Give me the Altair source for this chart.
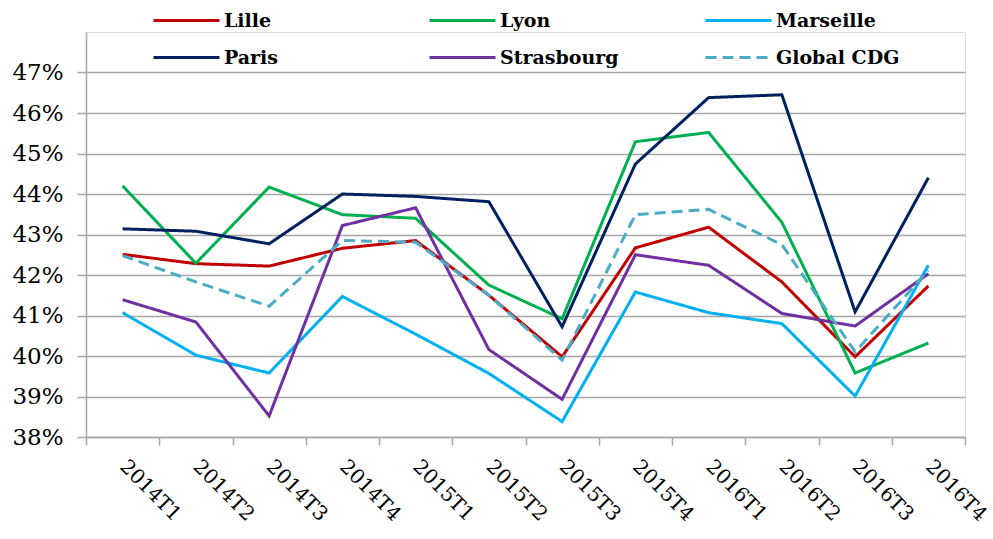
import altair as alt
import pandas as pd

quarters = ["2014T1", "2014T2", "2014T3", "2014T4", "2015T1", "2015T2",
            "2015T3", "2015T4", "2016T1", "2016T2", "2016T3", "2016T4"]

series_names = ["Lille", "Lyon", "Marseille", "Paris", "Strasbourg", "Global CDG"]
series_colors = ["#C00000", "#00B050", "#00B0F0", "#002060", "#7030A0", "#4BACC6"]
series_dashes = [[1, 0], [1, 0], [1, 0], [1, 0], [1, 0], [11, 6]]
series_widths = [3, 3, 3, 3, 3, 4]

lille = [42.51, 42.28, 42.22, 42.66, 42.85, 41.50, 39.98, 42.67, 43.18, 41.83, 39.98, 41.73]
lyon = [44.20, 42.29, 44.17, 43.49, 43.40, 41.75, 40.92, 45.29, 45.52, 43.30, 39.58, 40.32]
marseille = [41.07, 40.02, 39.58, 41.47, 40.54, 39.57, 38.38, 41.58, 41.07, 40.80, 39.01, 42.24]
paris = [43.14, 43.08, 42.77, 44.00, 43.94, 43.81, 40.72, 44.74, 46.38, 46.45, 41.09, 44.40]
strasbourg = [41.39, 40.84, 38.52, 43.22, 43.66, 40.16, 38.93, 42.50, 42.24, 41.05, 40.74, 42.03]
global_cdg = [42.48, 41.83, 41.23, 42.85, 42.81, 41.50, 39.90, 43.49, 43.62, 42.75, 40.10, 42.11]

y_ticks = [38, 39, 40, 41, 42, 43, 44, 45, 46, 47]

values = [lille, lyon, marseille, paris, strasbourg, global_cdg]
rows = []
for name, vals in zip(series_names, values):
    for q, v in zip(quarters, vals):
        rows.append({"trimestre": q, "serie": name, "taux": v})
df = pd.DataFrame(rows)

FONT = "DejaVu Serif"


def make_legend():
    return alt.Legend(title=None, orient="none", legendX=66, legendY=-24,
                      direction="horizontal", columns=3, gridAlign="all",
                      columnPadding=80, rowPadding=12, clipHeight=25,
                      symbolType="stroke", symbolSize=4356,
                      symbolStrokeWidth=4, labelOffset=3,
                      labelFont=FONT, labelFontSize=19,
                      labelFontWeight="bold", labelColor="#000000",
                      labelLimit=300)


chart = alt.Chart(df).mark_line().encode(
    x=alt.X("trimestre:N", sort=quarters, title=None,
            scale=alt.Scale(type="band", paddingInner=0, paddingOuter=0),
            axis=alt.Axis(labelAngle=45, labelAlign="left", labelBaseline="middle",
                          tickBand="extent", tickSize=8, labelPadding=18,
                          grid=False, domainColor="#A6A6A6", tickColor="#A6A6A6",
                          domainWidth=1.5, tickWidth=1.5,
                          labelFont=FONT, labelFontSize=20, labelColor="#000000")),
    y=alt.Y("taux:Q", title=None,
            scale=alt.Scale(domain=[38, 48], nice=False, zero=False),
            axis=alt.Axis(values=y_ticks, labelExpr="datum.value + '%'",
                          tickSize=9, labelPadding=14, grid=True,
                          gridColor="#A6A6A6", gridWidth=1.5,
                          domainColor="#A6A6A6", tickColor="#A6A6A6",
                          domainWidth=1.5, tickWidth=1.5,
                          labelFont=FONT, labelFontSize=23, labelColor="#000000")),
    color=alt.Color("serie:N", sort=series_names,
                    scale=alt.Scale(domain=series_names, range=series_colors),
                    legend=make_legend()),
    strokeDash=alt.StrokeDash("serie:N", sort=series_names,
                              scale=alt.Scale(domain=series_names, range=series_dashes),
                              legend=make_legend()),
    strokeWidth=alt.StrokeWidth("serie:N", sort=series_names,
                                scale=alt.Scale(domain=series_names, range=series_widths),
                                legend=None),
).properties(
    width=879, height=405,
    autosize=alt.AutoSizeParams(type="none"),
    padding={"left": 86, "top": 32, "right": 28, "bottom": 102},
).configure_view(stroke=None).configure(background="white")

chart.save("out.html", embed_options={"renderer": "svg", "actions": False})
